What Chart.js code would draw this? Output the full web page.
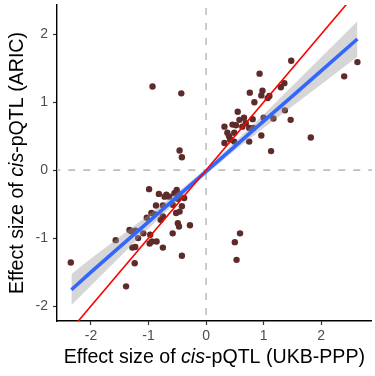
<!DOCTYPE html>
<html>
<head>
<meta charset="utf-8">
<script src="https://cdn.jsdelivr.net/npm/chart.js@4.4.1/dist/chart.umd.min.js"></script>
<style>
  html, body { margin: 0; padding: 0; background: #fff; }
  #wrap { width: 375px; height: 376px; }
</style>
</head>
<body>
<div id="wrap"><canvas id="qtlChart"></canvas></div>
<script>
// effect sizes: x = UKB-PPP, y = ARIC
const ukbEffect = [
  -0.93, -0.43, -0.46, -0.42,
  1.48, 2.63, 0.93, 2.40, 1.36, 1.30, 0.76, 0.98, 0.96, 1.07, 1.10, 0.84,
  0.55, 1.37, 1.17, 1.00, 1.47, 0.58, 0.66, 0.81, 0.32, 0.46, 0.52, 0.63,
  0.69, 0.75, 0.82, 0.37, 0.40, 0.49, 0.96, 1.82, 0.32, 0.42, 0.49, 0.75,
  1.13, 0.59, 0.50, 0.53,
  -2.35, -0.99, -0.82, -0.69, -0.72, -0.55, -0.46, -0.38, -0.49, -0.51,
  -0.87, -0.75, -0.58, -0.42, -0.46, -0.95, -0.90, -0.75, -0.52, -0.49,
  -0.47, -0.28, -0.58, -1.03, -0.79, -1.33, -1.23, -1.30, -1.18, -1.09,
  -0.97, -1.57, -0.98, -0.94, -0.86, -1.28, -1.23, -0.75, -0.42, -1.24,
  -1.39, -0.64
];
const aricEffect = [
  1.23, 1.13, 0.29, 0.19,
  1.61, 1.59, 1.42, 1.38, 1.28, 1.22, 1.14, 1.17, 1.10, 1.06, 1.09, 1.00,
  0.86, 0.88, 0.76, 0.77, 0.74, 0.74, 0.77, 0.75, 0.64, 0.67, 0.66, 0.64,
  0.69, 0.62, 0.62, 0.55, 0.50, 0.55, 0.51, 0.48, 0.40, 0.45, 0.42, 0.42,
  0.28, -0.93, -1.06, -1.32,
  -1.36, -0.28, -0.35, -0.36, -0.39, -0.34, -0.35, -0.41, -0.42, -0.29,
  -0.52, -0.52, -0.51, -0.53, -0.61, -0.63, -0.65, -0.68, -0.63, -0.78,
  -0.83, -0.81, -0.93, -0.70, -0.73, -0.88, -0.89, -0.90, -1.00, -0.93,
  -0.95, -1.03, -1.08, -1.05, -1.05, -1.14, -1.13, -1.14, -1.26, -1.37,
  -1.71, -0.39
];

// fitted line (geom_smooth lm) and its confidence band
const fitX     = [-2.34, -2.0, -1.5, -1.0, -0.5, 0.0, 0.5, 1.0, 1.5, 2.0, 2.63];
const fitY     = [-1.76, -1.50, -1.13, -0.76, -0.39, -0.02, 0.35, 0.72, 1.09, 1.46, 1.93];
const fitUpper = [-1.53, -1.30, -0.98, -0.66, -0.33, 0.025, 0.41, 0.82, 1.24, 1.66, 2.19];
const fitLower = [-1.99, -1.70, -1.28, -0.86, -0.45, -0.065, 0.29, 0.62, 0.94, 1.26, 1.67];

// identity line y = x
const identityX = [-3, 3];

const xTicks = [-2, -1, 0, 1, 2];
const yTicks = [-2, -1, 0, 1, 2];

const pts = ukbEffect.map((x, i) => ({ x: x, y: aricEffect[i] }));
const toXY = (xs, ys) => xs.map((x, i) => ({ x: x, y: ys[i] }));

const tickGrey = '#4d4d4d';
const fontFam = '"Liberation Sans", Arial, sans-serif';
const titleSize = 19.6;

// axis titles with italic "cis"
const titlePlugin = {
  id: 'axisTitles',
  afterDraw(chart) {
    const ctx = chart.ctx;
    const area = chart.chartArea;
    const drawParts = (parts, cx, cy) => {
      let widths = parts.map(p => { ctx.font = p[1] + ' ' + titleSize + 'px ' + fontFam; return ctx.measureText(p[0]).width; });
      let total = widths.reduce((a, b) => a + b, 0);
      let x = cx - total / 2;
      parts.forEach((p, i) => {
        ctx.font = p[1] + ' ' + titleSize + 'px ' + fontFam;
        ctx.fillText(p[0], x, cy);
        x += widths[i];
      });
    };
    ctx.save();
    ctx.fillStyle = '#000';
    ctx.textBaseline = 'alphabetic';
    ctx.textAlign = 'left';
    drawParts([['Effect size of ', 'normal'], ['cis', 'italic'], ['-pQTL (UKB-PPP)', 'normal']],
      (area.left + area.right) / 2, 363);
    ctx.translate(23, (area.top + area.bottom) / 2);
    ctx.rotate(-Math.PI / 2);
    drawParts([['Effect size of ', 'normal'], ['cis', 'italic'], ['-pQTL (ARIC)', 'normal']], 0, 0);
    ctx.restore();
  }
};

new Chart(document.getElementById('qtlChart'), {
  type: 'scatter',
  data: {
    datasets: [
      {
        // vertical dashed line at x = 0
        data: [{ x: 0, y: -5 }, { x: 0, y: 5 }],
        showLine: true, pointRadius: 0, borderColor: '#bebebe', borderWidth: 1.6,
        borderDash: [7, 8], clip: 0, order: 9
      },
      {
        // confidence band upper edge, filled down to the lower edge
        data: toXY(fitX, fitUpper),
        showLine: true, pointRadius: 0, borderWidth: 0, borderColor: 'rgba(0,0,0,0)',
        backgroundColor: 'rgba(153,153,153,0.4)', fill: '+1', order: 4
      },
      {
        data: toXY(fitX, fitLower),
        showLine: true, pointRadius: 0, borderWidth: 0, borderColor: 'rgba(0,0,0,0)',
        fill: false, order: 4
      },
      {
        // horizontal dashed line at y = 0
        data: [{ x: -5, y: 0 }, { x: 5, y: 0 }],
        showLine: true, pointRadius: 0, borderColor: '#bebebe', borderWidth: 1.6,
        borderDash: [7, 8], clip: 0, order: 9
      },
      {
        data: pts,
        pointRadius: 3.2, pointHoverRadius: 3.2, borderWidth: 0,
        backgroundColor: '#5e2b2b', order: 6
      },
      {
        data: toXY(fitX, fitY),
        showLine: true, pointRadius: 0, borderColor: '#3366ff', borderWidth: 3.6,
        order: 3
      },
      {
        data: toXY(identityX, identityX),
        showLine: true, pointRadius: 0, borderColor: '#ff0000', borderWidth: 1.6,
        clip: 0, order: 2
      }
    ]
  },
  options: {
    responsive: true,
    maintainAspectRatio: false,
    animation: false,
    events: [],
    layout: { padding: { top: 5, right: 2, left: 0, bottom: 0 } },
    plugins: { legend: { display: false }, tooltip: { enabled: false } },
    scales: {
      x: {
        type: 'linear', min: -2.59, max: 2.88,
        afterBuildTicks: s => { s.ticks = xTicks.map(v => ({ value: v })); },
        afterFit: s => { s.height = 55; s.paddingLeft = 0; s.paddingRight = 0; },
        grid: { drawOnChartArea: false, drawTicks: true, tickLength: 4, color: '#333', tickWidth: 1.2 },
        border: { display: true, color: '#000', width: 1.4 },
        ticks: { color: tickGrey, padding: 3, font: { family: fontFam, size: 14 }, maxRotation: 0,
                 callback: v => String(v) }
      },
      y: {
        type: 'linear', min: -2.22, max: 2.43,
        afterBuildTicks: s => { s.ticks = yTicks.map(v => ({ value: v })); },
        afterFit: s => { s.width = 57; s.paddingTop = 0; s.paddingBottom = 0; },
        grid: { drawOnChartArea: false, drawTicks: true, tickLength: 4, color: '#333', tickWidth: 1.2 },
        border: { display: true, color: '#000', width: 1.4 },
        ticks: { color: tickGrey, padding: 5, font: { family: fontFam, size: 14 },
                 callback: v => String(v) }
      }
    }
  },
  plugins: [titlePlugin]
});
</script>
</body>
</html>
